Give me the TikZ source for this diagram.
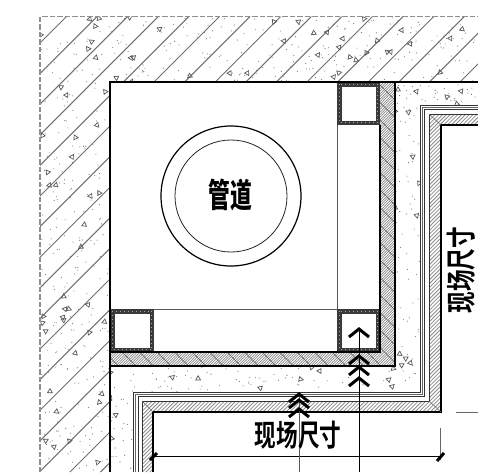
\documentclass[tikz,border=0pt]{standalone}
\usepackage{fontspec}
\newfontfamily\cjkreg[FakeStretch=0.72]{Noto Sans CJK SC Bold}
\newfontfamily\cjkbold[FakeStretch=0.66]{Noto Sans CJK SC Black}
\definecolor{hatchgray}{HTML}{707070}
\definecolor{finegray}{HTML}{8C8C8C}
\definecolor{coldark}{HTML}{3A3A3A}
\definecolor{dashgray}{HTML}{8E8E8E}
\tikzset{
  coarsehatch/.style={draw=hatchgray,line width=1pt},
  finehatch/.style={draw=finegray,line width=0.7pt},
  heavy/.style={draw=black,line width=2pt},
  medium/.style={draw=black!80,line width=0.85pt},
  thinline/.style={draw=black!60,line width=0.5pt},
  chevline/.style={draw=black,line width=3pt,line cap=butt,miter limit=10},
  leader/.style={draw=black,line width=1pt},
  ticktip/.style={draw=black,line width=3pt},
  labeltext/.style={inner sep=0pt,font=\cjkreg\fontsize{30}{30}\selectfont},
  pipetext/.style={inner sep=0pt,font=\cjkbold\fontsize{33}{33}\selectfont},
  speckdot/.style={fill=black!55},
  specktri/.style={draw=black!65,line width=0.7pt}
}
\newcommand{\speckbox}[6]{%
  \foreach \i in {1,...,#5}{%
    \pgfmathsetmacro{\px}{#1+#3*rnd}\pgfmathsetmacro{\py}{#2+#4*rnd}%
    \fill[speckdot] (\px,\py) circle (0.55);}%
  \foreach \i in {1,...,#6}{%
    \pgfmathsetmacro{\px}{#1+#3*rnd}\pgfmathsetmacro{\py}{#2+#4*rnd}\pgfmathsetmacro{\pa}{360*rnd}%
    \draw[specktri] (\px,\py) ++(\pa:2.8) -- ++(\pa+150:4.8) -- ++(\pa+270:4.8) -- cycle;}%
}
\newcommand{\chevmark}[2]{\draw[chevline] (#1-10,#2+8) -- (#1,#2) -- (#1+10,#2+8);}
\newcommand{\colbox}[4]{%
  \fill[coldark] (#1,#2) rectangle (#3,#4);
  \fill[white] (#1+4.5,#2+4.5) rectangle (#3-4.5,#4-4.5);
  \draw[black!35,line width=0.8pt,dash pattern=on 0.8pt off 3.2pt] (#1+2.2,#2+2.2) rectangle (#3-2.2,#4-2.2);
}
\begin{document}
\begin{tikzpicture}[x=1pt,y=-1pt]
\useasboundingbox (0,0) rectangle (478,472);
\fill[white] (0,0) rectangle (478,472);
\pgfmathsetseed{4217}
\begin{scope}
  \clip (40,16.5) -- (478,16.5) -- (478,82) -- (110,82) -- (110,472) -- (40,472) -- cycle;
  \foreach \k in {0,...,30}{
    \pgfmathsetmacro{\c}{83+30.6*\k}
    \draw[coarsehatch] (\c-500,500) -- (\c,0);
  }
  \speckbox{40}{17}{438}{65}{240}{38}
  \speckbox{40}{82}{70}{390}{210}{34}
\end{scope}
\begin{scope}
  \clip (395,82) -- (478,82) -- (478,105) -- (420,105) -- (420,392) -- (133,392) -- (133,472) -- (110,472) -- (110,366) -- (395,366) -- cycle;
  \speckbox{395}{82}{83}{23}{32}{5}
  \speckbox{395}{105}{25}{287}{60}{10}
  \speckbox{110}{366}{285}{26}{65}{10}
  \speckbox{110}{392}{23}{80}{22}{3}
\end{scope}
\begin{scope}
  \clip (380,82) rectangle (395,366) (110,352) rectangle (395,366);
  \foreach \k in {0,...,340}{
    \pgfmathsetmacro{\c}{440+2.6*\k}
    \draw[finehatch] (\c-400,400) -- (\c,0);
  }
  \foreach \k in {0,...,50}{
    \pgfmathsetmacro{\c}{-300+17.5*\k}
    \draw[draw=black!65,line width=0.6pt] (\c,0) -- (\c+500,500);
  }
\end{scope}
\begin{scope}
  \clip (429,114) -- (478,114) -- (478,125) -- (441,125) -- (441,412) -- (153,412) -- (153,472) -- (142,472) -- (142,401) -- (429,401) -- cycle;
  \foreach \k in {0,...,180}{
    \pgfmathsetmacro{\c}{200+3.8*\k}
    \draw[finehatch,line width=0.8pt] (\c-500,500) -- (\c,0);
  }
\end{scope}
\draw[medium] (478,105) -- (420,105) -- (420,392) -- (133,392) -- (133,472);
\draw[thinline] (478,107.5) -- (422.5,107.5) -- (422.5,394) -- (135.5,394) -- (135.5,472);
\draw[medium] (478,109.5) -- (424.5,109.5) -- (424.5,396) -- (138,396) -- (138,472);
\draw[medium] (478,114) -- (429,114) -- (429,401) -- (142,401) -- (142,472);
\draw[draw=black,line width=1.3pt] (478,125) -- (441,125) -- (441,412) -- (153,412) -- (153,472);
\draw[thinline] (429,114) -- (441,125);
\draw[thinline] (429,401) -- (441,412);
\draw[thinline] (142,401) -- (153,412);
\draw[draw=black!65,line width=1pt] (337,125) -- (337,309);
\draw[draw=black!65,line width=1pt] (154,309) -- (337,309);
\colbox{337}{82}{380}{125}
\colbox{110}{309}{154}{352}
\colbox{337}{309}{380}{352}
\draw[draw=black,line width=1.3pt] (380,125) -- (380,352) -- (110,352);
\draw[draw=black,line width=1.3pt] (395,82) -- (478,82);
\draw[heavy] (110,472) -- (110,82) -- (395,82) -- (395,366) -- (110,366);
\draw[draw=dashgray,line width=1.2pt,dash pattern=on 5.5pt off 2pt] (40,472) -- (40,16.5) -- (478,16.5);
\node[circle,draw=black,line width=1.2pt,minimum size=140pt,inner sep=0pt] (pipeouter) at (231,196) {};
\node[circle,draw=black!85,line width=0.8pt,minimum size=112pt,inner sep=0pt] (pipeinner) at (231,196) {};
\node[pipetext] (pipelabel) at (230,195) {管道};
\coordinate (dimL) at (153,456);
\coordinate (dimR) at (441,456);
\coordinate (extTop) at (440,428);
\coordinate (extBot) at (440,460);
\coordinate (extA) at (456,412);
\coordinate (extB) at (478,412);
\draw[leader] (dimL) -- (dimR);
\draw[thinline] (extTop) -- (extBot);
\draw[thinline] (extA) -- (extB);
\draw[ticktip] (150,460) -- (157,453);
\draw[ticktip] (437,461) -- (444,453);
\coordinate (leadAtop) at (299,394);
\coordinate (leadAbot) at (299,472);
\coordinate (leadBtop) at (359,329);
\coordinate (leadBbot) at (359,472);
\draw[leader,draw=black!65] (leadAtop) -- (leadAbot);
\draw[leader] (leadBtop) -- (leadBbot);
\chevmark{299}{394}
\chevmark{299}{400}
\chevmark{299}{409}
\chevmark{359}{329}
\chevmark{359}{356}
\chevmark{359}{367}
\chevmark{359}{378}
\node[labeltext] (labelH) at (298,435) {现场尺寸};
\node[labeltext,rotate=90] (labelV) at (461,270) {现场尺寸};
\end{tikzpicture}
\end{document}
